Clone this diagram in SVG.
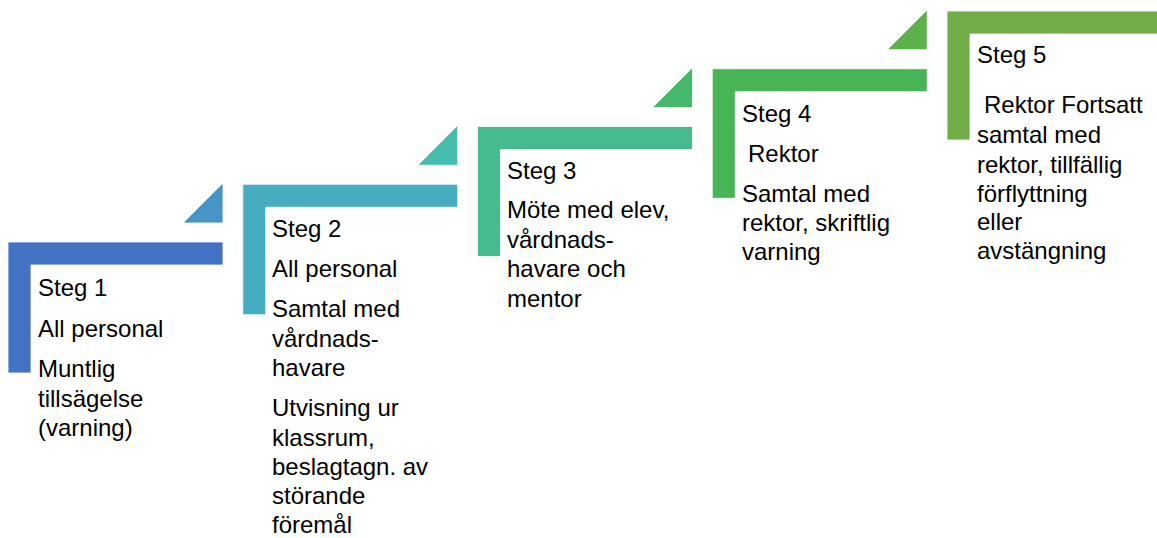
<svg xmlns="http://www.w3.org/2000/svg" width="1157" height="538" viewBox="0 0 1157 538">
<style>
.bg{fill:#ffffff}
.corner{stroke:#ffffff;stroke-width:0.8}
.tri{stroke:#ffffff;stroke-width:0.8}
text{font-family:"Liberation Sans",Arial,sans-serif;font-size:24px;fill:#000000}
</style>
<rect class="bg" x="0" y="0" width="1157" height="538"/>
<g id="step1">
<path class="corner" fill="#4472C4" d="M8 242 H223 V265 H31 V373 H8 Z"/>
<polygon class="tri" fill="#4895C5" points="183,223 223,223 223,183"/>
<text x="38" y="296">Steg 1</text>
<text x="38" y="337">All personal</text>
<text x="38" y="377">Muntlig</text>
<text x="38" y="406.5">tillsägelse</text>
<text x="38" y="436">(varning)</text>
</g>
<g id="step2">
<path class="corner" fill="#46ADC0" d="M242.75 184.25 H457.75 V207.25 H265.75 V314.75 H242.75 Z"/>
<polygon class="tri" fill="#45BEAE" points="417.75,165.25 457.75,165.25 457.75,125.25"/>
<text x="272" y="237">Steg 2</text>
<text x="272" y="277">All personal</text>
<text x="272" y="317">Samtal med</text>
<text x="272" y="346.5">vårdnads-</text>
<text x="272" y="376">havare</text>
<text x="272" y="416">Utvisning ur</text>
<text x="272" y="445.5">klassrum,</text>
<text x="272" y="475">beslagtagn. av</text>
<text x="272" y="504">störande</text>
<text x="272" y="533">föremål</text>
</g>
<g id="step3">
<path class="corner" fill="#45BB8E" d="M477.5 126.5 H692.5 V149.5 H500.5 V256.5 H477.5 Z"/>
<polygon class="tri" fill="#46B86B" points="652.5,107.5 692.5,107.5 692.5,67.5"/>
<text x="507" y="179">Steg 3</text>
<text x="507" y="218">Möte med elev,</text>
<text x="507" y="247.5">vårdnads-</text>
<text x="507" y="277">havare och</text>
<text x="507" y="306.5">mentor</text>
</g>
<g id="step4">
<path class="corner" fill="#47B456" d="M712.25 68.75 H927.25 V91.75 H735.25 V198.25 H712.25 Z"/>
<polygon class="tri" fill="#5CB14A" points="887.25,49.75 927.25,49.75 927.25,9.75"/>
<text x="742" y="122">Steg 4</text>
<text x="748" y="162">Rektor</text>
<text x="742" y="202">Samtal med</text>
<text x="742" y="231">rektor, skriftlig</text>
<text x="742" y="260">varning</text>
</g>
<g id="step5">
<path class="corner" fill="#70AD47" d="M947 11 H1162 V34 H970 V140 H947 Z"/>
<text x="977" y="63">Steg 5</text>
<text x="984" y="113">Rektor Fortsatt</text>
<text x="977" y="143">samtal med</text>
<text x="977" y="172.5">rektor, tillfällig</text>
<text x="977" y="201.5">förflyttning</text>
<text x="977" y="230">eller</text>
<text x="977" y="259">avstängning</text>
</g>
<g id="connectors"></g>
</svg>
